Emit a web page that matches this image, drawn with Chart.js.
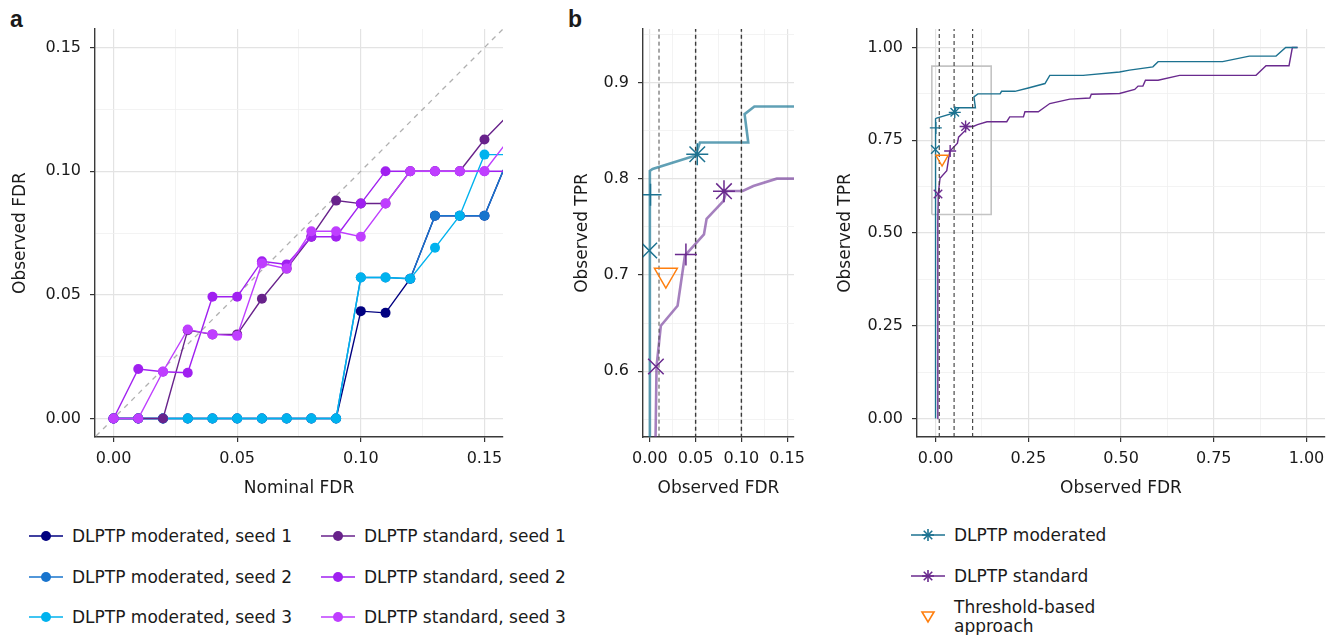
<!DOCTYPE html>
<html>
<head>
<meta charset="utf-8">
<script src="https://cdn.jsdelivr.net/npm/chart.js@4.4.1/dist/chart.umd.min.js"></script>
<style>
  html, body { margin: 0; padding: 0; background: #fff; }
  body { width: 1327px; height: 635px; position: relative; overflow: hidden;
         font-family: "DejaVu Sans", sans-serif; color: #1a1a1a; }
  canvas { position: absolute; top: 0; }
  .tag { position: absolute; top: 6px; font: bold 23px "Liberation Sans", Arial, sans-serif; }
  .item { position: absolute; height: 22px; display: flex; align-items: center;
          white-space: nowrap; font-size: 17px; }
  .item svg { margin-right: 9px; flex: none; }
</style>
</head>
<body>
<div class="tag" style="left:10px">a</div>
<div class="tag" style="left:568px">b</div>
<canvas id="panelA" width="515" height="510" style="left:0"></canvas>
<canvas id="panelB" width="260" height="510" style="left:560px"></canvas>
<canvas id="panelC" width="535" height="510" style="left:820px"></canvas>
<div id="legendA"></div>
<div id="legendC"></div>
<script>
'use strict';

// ---- panel a: observed vs nominal FDR ----
const nominalFDR = [0, 0.01, 0.02, 0.03, 0.04, 0.05, 0.06, 0.07, 0.08, 0.09, 0.10, 0.11, 0.12, 0.13, 0.14, 0.15, 0.16];
const modSeed1 = [0, 0, 0, 0, 0, 0, 0, 0, 0, 0, 0.0434, 0.0427, 0.0565, 0.082, 0.082, 0.082, 0.106];
const modSeed2 = [0, 0, 0, 0, 0, 0, 0, 0, 0, 0, 0.057, 0.057, 0.0565, 0.082, 0.082, 0.082, 0.106];
const modSeed3 = [0, 0, 0, 0, 0, 0, 0, 0, 0, 0, 0.057, 0.057, 0.0565, 0.069, 0.082, 0.1067, 0.1067];
const stdSeed1 = [0, 0, 0, 0.0357, 0.034, 0.034, 0.0484, 0.0606, 0.0735, 0.0881, 0.0869, 0.0869, 0.1, 0.1, 0.1, 0.1128, 0.123];
const stdSeed2 = [0, 0.02, 0.0189, 0.0185, 0.0492, 0.0492, 0.0636, 0.0623, 0.0735, 0.0735, 0.0869, 0.1, 0.1, 0.1, 0.1, 0.1, 0.1];
const stdSeed3 = [0, 0, 0.019, 0.036, 0.034, 0.0334, 0.0627, 0.0606, 0.0757, 0.0757, 0.0735, 0.0869, 0.1, 0.1, 0.1, 0.1, 0.113];
const diagonal = [-0.05, 0.2];

const ticksA = [0, 0.025, 0.05, 0.075, 0.1, 0.125, 0.15];
const majorA = [0, 0.05, 0.1, 0.15];

// ---- panel b: TPR vs FDR curves ----
const modCurveFDR = [0, 0, 0.003, 0.05, 0.0547, 0.1075, 0.1035, 0.1142, 0.174, 0.178, 0.214, 0.25, 0.295, 0.308, 0.398, 0.496, 0.523, 0.586, 0.6, 0.774, 0.846, 0.918, 0.944, 0.976];
const modCurveTPR = [0, 0.808, 0.81, 0.824, 0.8375, 0.8375, 0.867, 0.875, 0.875, 0.882, 0.882, 0.891, 0.903, 0.925, 0.925, 0.934, 0.939, 0.948, 0.962, 0.962, 0.977, 0.977, 1, 1];
const stdCurveFDR = [0.005, 0.0062, 0.0073, 0.012, 0.0303, 0.0383, 0.0591, 0.062, 0.0803, 0.0839, 0.1015, 0.1131, 0.1387, 0.192, 0.2, 0.237, 0.241, 0.277, 0.308, 0.362, 0.416, 0.42, 0.496, 0.537, 0.546, 0.559, 0.566, 0.6, 0.658, 0.864, 0.891, 0.953, 0.962, 0.976];
const stdCurveTPR = [0, 0.53, 0.6049, 0.6472, 0.668, 0.7201, 0.742, 0.7583, 0.7767, 0.7872, 0.7872, 0.7924, 0.8, 0.8, 0.813, 0.813, 0.827, 0.827, 0.849, 0.861, 0.864, 0.874, 0.876, 0.887, 0.896, 0.896, 0.912, 0.912, 0.925, 0.925, 0.951, 0.951, 1, 1];

// operating points at the nominal cut-offs
const modMarkFDR = [0.0007, -0.0007, 0.0518];
const modMarkTPR = [0.7833, 0.7253, 0.8253];
const modMarkShape = ['cross', 'crossRot', 'star'];
const stdMarkFDR = [0.0066, 0.0394, 0.081];
const stdMarkTPR = [0.6049, 0.7212, 0.787];
const stdMarkShape = ['crossRot', 'cross', 'star'];
const thrFDR = [0.0175];
const thrTPR = [0.70];

const cutoffs = [0.01, 0.05, 0.10];
const boxFDR = [-0.01, 0.15, 0.15, -0.01, -0.01];
const boxTPR = [0.55, 0.55, 0.95, 0.95, 0.55];

const ticksBx = [0, 0.025, 0.05, 0.075, 0.1, 0.125, 0.15];
const majorBx = [0, 0.05, 0.1, 0.15];
const ticksBy = [0.55, 0.6, 0.65, 0.7, 0.75, 0.8, 0.85, 0.9, 0.95];
const majorBy = [0.6, 0.7, 0.8, 0.9];
const ticksC = [0, 0.125, 0.25, 0.375, 0.5, 0.625, 0.75, 0.875, 1];
const majorC = [0, 0.25, 0.5, 0.75, 1];

const TEAL = '#1c7290';
const PURPLE = '#6a2a8e';
const ORANGE = '#ff7f0e';

Chart.defaults.font.family = '"DejaVu Sans", sans-serif';
Chart.defaults.font.size = 16;
Chart.defaults.color = '#1a1a1a';

const pts = (xs, ys) => xs.map((x, i) => ({ x, y: ys[i] }));
const near = (list, v) => list.some(m => Math.abs(m - v) < 1e-9);

function scale(o) {
  const major = c => c.tick && near(o.major, c.tick.value);
  return {
    type: 'linear',
    position: o.pos,
    min: o.min,
    max: o.max,
    afterBuildTicks: s => { s.ticks = o.ticks.map(v => ({ value: v })); },
    afterFit: s => { if (o.pos === 'left') s.width = o.size; else s.height = o.size; },
    grid: {
      color: c => major(c) ? '#e3e3e3' : '#f0f0f0',
      lineWidth: c => major(c) ? 1.2 : 0.8,
      tickColor: c => major(c) ? '#333' : 'rgba(0,0,0,0)',
      tickLength: 5,
    },
    border: { color: '#3a3a3a', width: 1.4 },
    ticks: {
      autoSkip: false,
      maxRotation: 0,
      padding: o.pos === 'left' ? 9 : 7,
      color: '#1a1a1a',
      callback: v => near(o.major, v) ? v.toFixed(o.digits) : '',
    },
    title: { display: true, text: o.title, font: { size: 17 }, color: '#1a1a1a', padding: o.titlePad },
  };
}

function lineSet(data, color, width, extra) {
  return Object.assign({ data, showLine: true, borderColor: color, backgroundColor: color,
    borderWidth: width, pointRadius: 0, tension: 0, clip: 0 }, extra || {});
}

function cutoffSets(yMin, yMax, widths) {
  return cutoffs.map((c, i) => lineSet([{ x: c, y: yMin }, { x: c, y: yMax }], '#3a3a3a', widths[i],
    { borderDash: [4, 3], order: 5 }));
}

function markerSets(r, lw) {
  return [
    { data: pts(modMarkFDR, modMarkTPR), pointStyle: modMarkShape, pointRadius: r, borderColor: TEAL,
      pointBorderWidth: lw, backgroundColor: TEAL, clip: 0, order: 0 },
    { data: pts(stdMarkFDR, stdMarkTPR), pointStyle: stdMarkShape, pointRadius: r, borderColor: PURPLE,
      pointBorderWidth: lw, backgroundColor: PURPLE, clip: 0, order: 0 },
    { data: pts(thrFDR, thrTPR), pointStyle: 'triangle', rotation: 180, pointRadius: r * 1.2,
      borderColor: ORANGE, backgroundColor: 'rgba(0,0,0,0)', pointBorderWidth: lw, clip: 0, order: 0 },
  ];
}

const baseOpts = (layoutPad, scales) => ({
  responsive: false,
  animation: false,
  layout: { padding: layoutPad },
  plugins: { legend: { display: false }, tooltip: { enabled: false } },
  scales,
});

// ---- panel a ----
const seriesA = [
  { label: 'DLPTP moderated, seed 1', values: modSeed1, color: '#000080' },
  { label: 'DLPTP moderated, seed 2', values: modSeed2, color: '#1874cd' },
  { label: 'DLPTP moderated, seed 3', values: modSeed3, color: '#00b2ee' },
  { label: 'DLPTP standard, seed 1', values: stdSeed1, color: '#68228b' },
  { label: 'DLPTP standard, seed 2', values: stdSeed2, color: '#a020f0' },
  { label: 'DLPTP standard, seed 3', values: stdSeed3, color: '#bf3eff' },
];

new Chart(document.getElementById('panelA'), {
  type: 'scatter',
  data: {
    datasets: [
      lineSet(pts(diagonal, diagonal), '#b0b0b0', 1.3, { borderDash: [5, 5], order: 50 }),
      ...seriesA.map((s, i) => lineSet(pts(nominalFDR, s.values), s.color, 1.4,
        { pointRadius: 5, pointBorderWidth: 0, order: 20 - i })),
    ],
  },
  options: baseOpts({ left: 0, top: 29, right: 12, bottom: 0 }, {
    x: scale({ pos: 'bottom', min: -0.0075, max: 0.1575, ticks: ticksA, major: majorA, digits: 2,
      size: 73, title: 'Nominal FDR', titlePad: { bottom: 11 } }),
    y: scale({ pos: 'left', min: -0.0075, max: 0.1575, ticks: ticksA, major: majorA, digits: 2,
      size: 95, title: 'Observed FDR', titlePad: { top: 10 } }),
  }),
});

// ---- panel b (zoomed) ----
new Chart(document.getElementById('panelB'), {
  type: 'scatter',
  data: {
    datasets: [
      lineSet(pts(modCurveFDR, modCurveTPR), 'rgba(28,120,150,0.7)', 2.6, { order: 10 }),
      lineSet(pts(stdCurveFDR, stdCurveTPR), 'rgba(110,50,150,0.62)', 2.6, { order: 10 }),
      ...cutoffSets(0, 1.2, [0.9, 1.4, 1.4]),
      ...markerSets(11, 1.5),
    ],
  },
  options: baseOpts({ left: 0, top: 29, right: 26, bottom: 0 }, {
    x: scale({ pos: 'bottom', min: -0.0075, max: 0.1575, ticks: ticksBx, major: majorBx, digits: 2,
      size: 73, title: 'Observed FDR', titlePad: { bottom: 11 } }),
    y: scale({ pos: 'left', min: 0.5316, max: 0.9555, ticks: ticksBy, major: majorBy, digits: 1,
      size: 83, title: 'Observed TPR', titlePad: { top: 12 } }),
  }),
});

// ---- panel b (full range) ----
new Chart(document.getElementById('panelC'), {
  type: 'scatter',
  data: {
    datasets: [
      lineSet(pts(boxFDR, boxTPR), '#c4c4c4', 1.6, { order: 30 }),
      lineSet(pts(modCurveFDR, modCurveTPR), TEAL, 1.4, { order: 10 }),
      lineSet(pts(stdCurveFDR, stdCurveTPR), PURPLE, 1.4, { order: 10 }),
      ...cutoffSets(-0.05, 1.05, [1.1, 1.1, 1.1]),
      ...markerSets(6, 1.4),
    ],
  },
  options: baseOpts({ left: 0, top: 29, right: 30, bottom: 0 }, {
    x: scale({ pos: 'bottom', min: -0.05, max: 1.05, ticks: ticksC, major: majorC, digits: 2,
      size: 73, title: 'Observed FDR', titlePad: { bottom: 11 } }),
    y: scale({ pos: 'left', min: -0.05, max: 1.05, ticks: ticksC, major: majorC, digits: 2,
      size: 97, title: 'Observed TPR', titlePad: { top: 15 } }),
  }),
});

// ---- legends (HTML, real text) ----
function lineDot(color) {
  return `<svg width="34" height="12"><line x1="0" y1="6" x2="34" y2="6" stroke="${color}" stroke-width="1.5"/>` +
    `<circle cx="17" cy="6" r="5" fill="${color}"/></svg>`;
}
function lineStar(color) {
  const spokes = [0, 45, 90, 135].map(a => {
    const dx = 6 * Math.cos(a * Math.PI / 180), dy = 6 * Math.sin(a * Math.PI / 180);
    return `<line x1="${17 - dx}" y1="${7 - dy}" x2="${17 + dx}" y2="${7 + dy}" stroke="${color}" stroke-width="1.6"/>`;
  }).join('');
  return `<svg width="34" height="14"><line x1="0" y1="7" x2="34" y2="7" stroke="${color}" stroke-width="1.3"/>${spokes}</svg>`;
}
function openTriangle(color) {
  return `<svg width="34" height="14"><polygon points="11,2 23,2 17,12" fill="none" stroke="${color}" stroke-width="1.6"/></svg>`;
}

const legA = document.getElementById('legendA');
seriesA.forEach((s, i) => {
  const col = Math.floor(i / 3), row = i % 3;
  const el = document.createElement('div');
  el.className = 'item';
  el.style.left = (29 + col * 292) + 'px';
  el.style.top = ([536, 577, 617][row] - 11) + 'px';
  el.innerHTML = lineDot(s.color) + '<span>' + s.label + '</span>';
  legA.appendChild(el);
});

const legC = document.getElementById('legendC');
const legendC = [
  { label: 'DLPTP moderated', sym: lineStar(TEAL), y: 535 },
  { label: 'DLPTP standard', sym: lineStar(PURPLE), y: 576 },
  { label: 'Threshold-based<br>approach', sym: openTriangle(ORANGE), y: 617 },
];
legendC.forEach(s => {
  const el = document.createElement('div');
  el.className = 'item';
  el.style.left = '911px';
  el.style.top = (s.y - 11) + 'px';
  el.innerHTML = s.sym + '<span style="line-height:19px">' + s.label + '</span>';
  legC.appendChild(el);
});
</script>
</body>
</html>
